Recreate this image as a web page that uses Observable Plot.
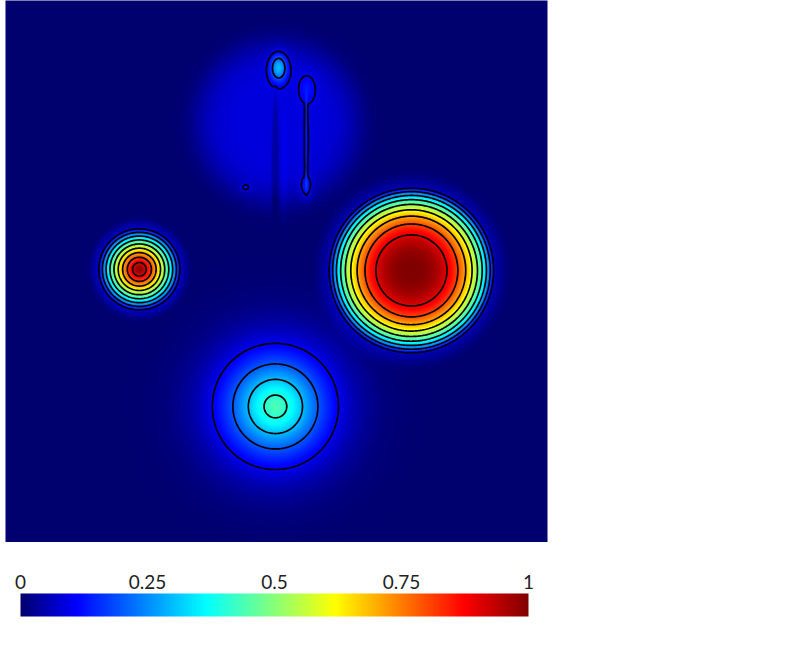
<!DOCTYPE html>
<html>
<head>
<meta charset="utf-8">
<script src="https://cdn.jsdelivr.net/npm/d3@7"></script>
<script src="https://cdn.jsdelivr.net/npm/@observablehq/plot@0.6"></script>
<style>
  html, body { margin: 0; padding: 0; background: #fff; }
  #chart svg { display: block; }
</style>
</head>
<body>
<div id="chart"></div>
<script>
// ---- Data: blobs composing the scalar field (domain [0,1] x [0,1], y downward) ----
// blobShape: 0 = exp(-r^p) bump, 1 = cap 1 - r^p (zero outside)
const blobX     = [0.247, 0.749, 0.247, 0.749, 0.498, 0.504, 0.502, 0.555, 0.555, 0.557, 0.443, 0.498, 0.515];
const blobY     = [0.496, 0.498, 0.496, 0.498, 0.749, 0.124, 0.225, 0.262, 0.345, 0.162, 0.345, 0.300, 0.310];
const blobSX    = [0.0775, 0.155, 0.0875, 0.1665, 0.091, 0.015, 0.151, 0.0033, 0.0105, 0.016, 0.009, 0.0070, 0.0055];
const blobSY    = [0.0775, 0.155, 0.0875, 0.1665, 0.091, 0.024, 0.151, 0.096, 0.021, 0.028, 0.008, 0.130, 0.115];
const blobPeak  = [0.93, 0.93, 0.07, 0.07, 0.44, 0.22, 0.085, 0.045, 0.08, 0.045, 0.065, -0.045, 0.012];
const blobPower = [1.23, 2.59, 12, 12, 1.6, 2, 6, 8, 2, 2, 2, 6, 6];
const blobShape = [1, 1, 0, 0, 0, 0, 0, 0, 0, 0, 0, 0, 0];

// contour levels and colour-bar ticks
const contourLevels = [0.1, 0.2, 0.3, 0.4, 0.5, 0.6, 0.7, 0.8, 0.9];
const legendTicks = [0, 0.25, 0.5, 0.75, 1];

// jet colour map
const jetStops  = [0, 0.1111, 0.3651, 0.4921, 0.6190, 0.8730, 1];
const jetColors = ["rgb(0,0,110)", "rgb(0,0,255)", "rgb(0,255,255)", "rgb(128,255,128)",
                   "rgb(255,255,0)", "rgb(255,0,0)", "rgb(128,0,0)"];

function field(x, y) {
  let v = 0;
  for (let i = 0; i < blobX.length; ++i) {
    const dx = (x - blobX[i]) / blobSX[i];
    const dy = (y - blobY[i]) / blobSY[i];
    const r2 = dx * dx + dy * dy;
    const t = Math.pow(r2, blobPower[i] / 2);
    v += blobPeak[i] * (blobShape[i] ? Math.max(0, 1 - t) : Math.exp(-t));
  }
  return Math.max(0, Math.min(1, v));
}

const colorScale = {type: "linear", domain: jetStops, range: jetColors, interpolate: "rgb", clamp: true};

const main = Plot.plot({
  width: 552,
  height: 542,
  marginLeft: 5,
  marginRight: 5,
  marginTop: 0,
  marginBottom: 0,
  x: {domain: [0, 1], axis: null},
  y: {domain: [0, 1], reverse: true, axis: null},
  color: colorScale,
  marks: [
    Plot.raster({x1: 0, y1: 0, x2: 1, y2: 1, fill: field, pixelSize: 1, imageRendering: "auto"}),
    Plot.contour({x1: 0, y1: 0, x2: 1, y2: 1, value: field, thresholds: contourLevels,
                  pixelSize: 1, fill: "none", stroke: "black", strokeWidth: 1.7})
  ]
});

const legend = Plot.plot({
  width: 552,
  height: 113,
  marginLeft: 20,
  marginRight: 24,
  marginTop: 51,
  marginBottom: 39,
  x: {domain: [0, 1], axis: null},
  y: {domain: [0, 1], axis: null},
  color: colorScale,
  style: {fontFamily: "Lato, 'Open Sans', sans-serif"},
  marks: [
    Plot.raster({x1: 0, y1: 0, x2: 1, y2: 1, fill: (x, y) => x, pixelSize: 1}),
    Plot.text(legendTicks, {x: d => d, y: 1, text: d => String(d), dy: -5, lineAnchor: "bottom",
                            fontSize: 19, fill: "#222"})
  ]
});

const chart = document.getElementById("chart");
chart.appendChild(main);
chart.appendChild(legend);
</script>
</body>
</html>
